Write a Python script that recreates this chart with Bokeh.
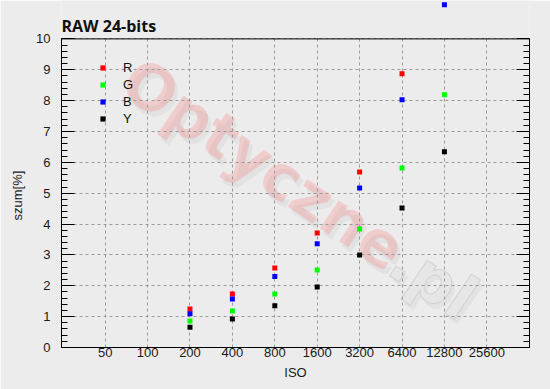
import numpy as np
from bokeh.plotting import figure
from bokeh.models import LinearAxis, FixedTicker, Legend, LegendItem, Label, Span, Title
from bokeh.embed import file_html
from bokeh.resources import INLINE

# ---- data ----
iso = [200, 400, 800, 1600, 3200, 6400, 12800]
r_vals = [1.25, 1.73, 2.58, 3.71, 5.69, 8.87, float("nan")]
g_vals = [0.86, 1.18, 1.73, 2.51, 3.84, 5.82, 8.19]
b_vals = [1.09, 1.57, 2.30, 3.36, 5.17, 8.03, 11.11]
y_vals = [0.66, 0.92, 1.35, 1.96, 3.00, 4.52, 6.34]

x_ticks = [50, 100, 200, 400, 800, 1600, 3200, 6400, 12800, 25600]
x_tick_labels = ["50", "100", "200", "400", "800", "1600", "3200", "6400", "12800", "25600"]
y_ticks = [0, 1, 2, 3, 4, 5, 6, 7, 8, 9, 10]
y_axis_max = 10

series_names = ["R", "G", "B", "Y"]
series_colors = ["#ff0000", "#00ff00", "#0000ff", "#000000"]
series_vals = [r_vals, g_vals, b_vals, y_vals]

BG = "#ececec"
FONT = "Liberation Sans"

# the plot area reaches above the y=10 border so that the off-scale point stays visible
p = figure(width=550, height=389, x_axis_type="log",
           x_range=(24.5, 51400), y_range=(0, 11.245),
           output_backend="svg", toolbar_location=None,
           background_fill_color=BG, border_fill_color=BG,
           min_border_left=61, min_border_right=21,
           min_border_top=0, min_border_bottom=42,
           styles={"position": "absolute", "top": "0px", "left": "0px"})

p.outline_line_color = None

# top border of the chart box at y = 10
p.add_layout(Span(location=y_axis_max, dimension="width", line_color="black", line_width=1))

title = Label(x=0, y=322, x_units="screen", y_units="screen", text="RAW 24-bits",
              text_font="Open Sans", text_font_size="16px", text_font_style="bold",
              text_color="#111111", text_baseline="alphabetic", text_align="left")
p.add_layout(title)

# watermark
wm_angle = -0.593
wm_font = dict(angle=wm_angle, text_font="DejaVu Sans", text_font_style="bold",
               text_font_size="62px", text_baseline="middle", text_align="left",
               level="image", x_units="screen", y_units="screen")
shadow = Label(x=70, y=269, text="Optyczne", text_color="#777777", text_alpha=0.08, **wm_font)
wm1 = Label(x=67, y=274, text="Optyczne", text_color="#ff6060", text_alpha=0.22, **wm_font)
shadow2 = Label(x=338, y=88, text=".pl", text_color="#777777", text_alpha=0.08, **wm_font)
wm2 = Label(x=335, y=93, text=".pl", text_color="#e6e6e6", text_alpha=1.0,
            text_outline_color="#d2d2d2", **wm_font)
for lab in (shadow, wm1, shadow2, wm2):
    p.add_layout(lab)

# grids
p.xgrid.ticker = FixedTicker(ticks=x_ticks)
p.ygrid.ticker = FixedTicker(ticks=y_ticks)
p.xgrid.cross_bounds = (0, y_axis_max)
for g in (p.xgrid, p.ygrid):
    g.grid_line_color = "#9a9a9a"
    g.grid_line_dash = "3 3"
    g.grid_line_width = 1

# x axis
xa = p.xaxis[0]
xa.ticker = FixedTicker(ticks=x_ticks)
xa.major_label_overrides = {t: s for t, s in zip(x_ticks, x_tick_labels)}
xa.major_tick_in = 0
xa.major_tick_out = 0
xa.minor_tick_in = 0
xa.minor_tick_out = 0
xa.major_label_standoff = 0
xa.axis_label = "ISO"
xa.axis_label_standoff = 5
xa.axis_label_text_font_style = "normal"

minor_y = [round(v, 2) for v in np.arange(0, 10.01, 0.2)]

ya = p.yaxis[0]
ya.ticker = FixedTicker(ticks=y_ticks, minor_ticks=minor_y)
ya.bounds = (0, y_axis_max)
ya.major_tick_in = 13
ya.major_tick_out = 0
ya.minor_tick_in = 6
ya.minor_tick_out = 0
ya.major_label_standoff = 11

ra = LinearAxis(ticker=FixedTicker(ticks=y_ticks, minor_ticks=minor_y))
ra.bounds = (0, y_axis_max)
ra.major_label_overrides = {t: "" for t in y_ticks}
ra.major_label_standoff = 0
ra.major_tick_in = 13
ra.major_tick_out = 0
ra.minor_tick_in = 6
ra.minor_tick_out = 0
p.add_layout(ra, "right")

for ax in (xa, ya, ra):
    ax.axis_line_color = "black"
    ax.major_tick_line_color = "black"
    ax.minor_tick_line_color = "black"
    ax.major_label_text_font = FONT
    ax.major_label_text_font_size = "13px" if ax is not ra else "0px"
    ax.major_label_text_color = "#1a1a1a"
    ax.axis_label_text_font = FONT
    ax.axis_label_text_font_size = "13px"
    ax.axis_label_text_color = "#1a1a1a"

# y axis title, placed beside the tick labels and anchored near the lower middle
ytitle = Title(text="szum[%]", align="left", vertical_align="middle",
               offset=127, standoff=16, text_font=FONT, text_font_size="13px",
               text_font_style="normal", text_color="#1a1a1a")
p.add_layout(ytitle, "left")

# data
items = []
for name, col, vals in zip(series_names, series_colors, series_vals):
    r = p.scatter(iso, vals, marker="square", size=5, color=col, line_width=0)
    items.append(LegendItem(label=name, renderers=[r]))

legend = Legend(items=items, location=(35, 221), padding=0, margin=0,
                spacing=1, glyph_width=13, glyph_height=13,
                label_height=16, label_standoff=14,
                label_text_font=FONT, label_text_font_size="13px",
                label_text_color="#111111",
                border_line_color=None, background_fill_alpha=0)
p.add_layout(legend, "center")

open("out.html", "w").write(file_html(p, INLINE))
